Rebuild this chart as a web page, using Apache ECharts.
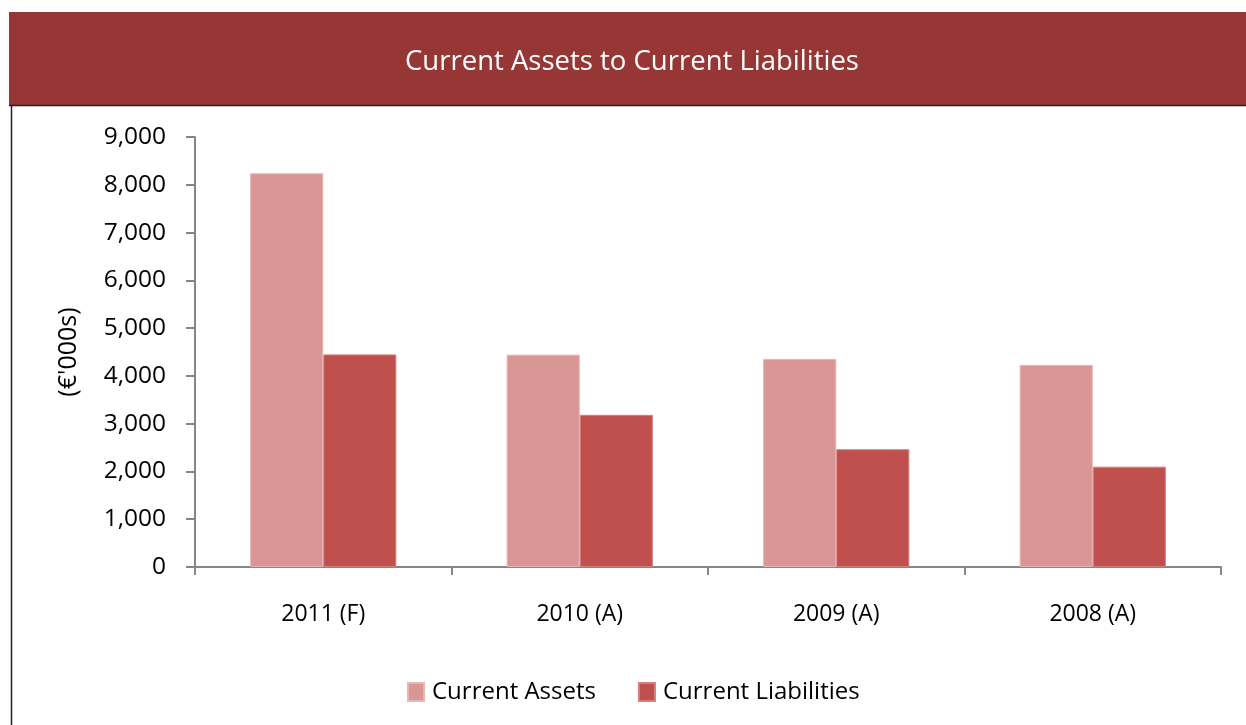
<!DOCTYPE html>
<html>
<head>
<meta charset="utf-8">
<script src="https://cdn.jsdelivr.net/npm/echarts@6/dist/echarts.min.js"></script>
<style>
html, body { margin: 0; padding: 0; background: #fff; }
#chart { width: 1246px; height: 725px; }
</style>
</head>
<body>
<div id="chart"></div>
<script>
var chart = echarts.init(document.getElementById('chart'));

var categories = ['2011 (F)', '2010 (A)', '2009 (A)', '2008 (A)'];
var currentAssets = [8240, 4445, 4355, 4230];
var currentLiabilities = [4450, 3185, 2465, 2100];
var yTicks = [0, 9000, 1000]; // min, max, step

var font = '"Open Sans", "Noto Sans", sans-serif';

var option = {
  animation: false,
  textStyle: { fontFamily: font },
  graphic: [
    { // title band
      type: 'rect',
      shape: { x: 9, y: 12, width: 1237, height: 93 },
      style: { fill: '#963735' },
      z: 0
    },
    {
      type: 'line',
      shape: { x1: 9, y1: 105.5, x2: 1246, y2: 105.5 },
      style: { stroke: '#222', lineWidth: 1.5 }
    },
    {
      type: 'line',
      shape: { x1: 11.5, y1: 105, x2: 11.5, y2: 725 },
      style: { stroke: '#222', lineWidth: 1.5 }
    },
    {
      type: 'text',
      x: 632, y: 62,
      style: {
        text: 'Current Assets to Current Liabilities',
        fill: '#fff',
        font: '27.5px ' + font,
        align: 'center',
        verticalAlign: 'middle'
      },
      z: 10
    }
  ],
  grid: { left: 195, right: 25, top: 137, bottom: 158 },
  legend: {
    left: 402,
    top: 675,
    itemWidth: 16,
    itemHeight: 18,
    itemGap: 42,
    icon: 'rect',
    textStyle: { fontSize: 24, color: '#000', fontFamily: font, padding: [0, 0, 0, 3] },
    data: ['Current Assets', 'Current Liabilities']
  },
  xAxis: {
    type: 'category',
    data: categories,
    axisLine: { lineStyle: { color: '#868686', width: 2 } },
    axisTick: { show: true, length: 8, lineStyle: { color: '#868686', width: 2 } },
    axisLabel: { color: '#000', fontSize: 23, margin: 36, fontFamily: font }
  },
  yAxis: {
    type: 'value',
    min: yTicks[0],
    max: yTicks[1],
    interval: yTicks[2],
    name: "(€'000s)",
    nameLocation: 'middle',
    nameGap: 114,
    nameRotate: 90,
    nameTextStyle: { color: '#000', fontSize: 25, fontFamily: font },
    splitLine: { show: false },
    axisLine: { show: true, lineStyle: { color: '#868686', width: 2 } },
    axisTick: { show: true, length: 9, lineStyle: { color: '#868686', width: 2 } },
    axisLabel: {
      color: '#000',
      fontSize: 24.5,
      margin: 29,
      fontFamily: font,
      formatter: function (v) { return v.toLocaleString('en-US'); }
    }
  },
  series: [
    {
      name: 'Current Assets',
      type: 'bar',
      data: currentAssets,
      barGap: '0%',
      barCategoryGap: '43%',
      itemStyle: { color: '#D99694', borderColor: '#E6B5B4', borderWidth: 1 }
    },
    {
      name: 'Current Liabilities',
      type: 'bar',
      data: currentLiabilities,
      barGap: '0%',
      barCategoryGap: '43%',
      itemStyle: { color: '#C0504D', borderColor: '#D37F7D', borderWidth: 1 }
    }
  ]
};

chart.setOption(option);
</script>
</body>
</html>
